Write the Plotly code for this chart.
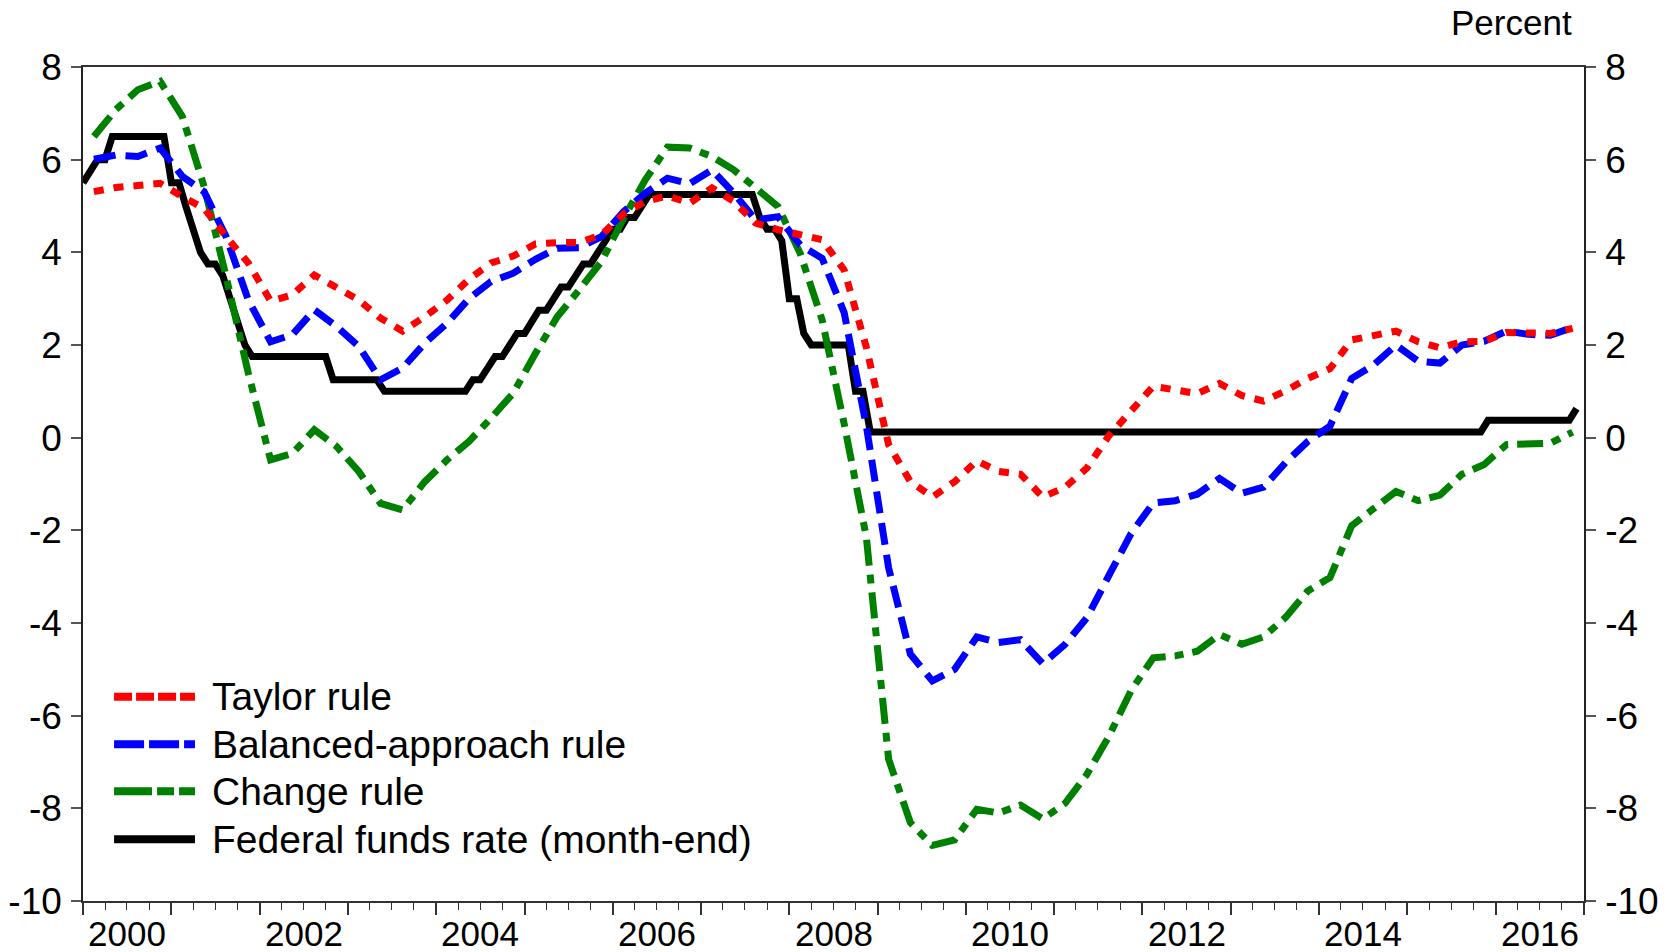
import plotly.graph_objects as go
import pandas as pd

# ---------------- data ----------------
quarters = pd.period_range("2000Q1", "2016Q4", freq="Q").to_timestamp(how="start") + pd.Timedelta(days=45)
months = pd.date_range("2000-01-01", "2016-12-01", freq="MS")

taylor = [5.31, 5.40, 5.44, 5.49, 5.20, 4.95, 4.34, 3.77, 2.95, 3.08, 3.51, 3.26, 2.97, 2.58, 2.30, 2.61,
          2.97, 3.42, 3.77, 3.92, 4.18, 4.21, 4.21, 4.38, 4.83, 5.10, 5.22, 5.06, 5.39, 5.10, 4.63, 4.49,
          4.38, 4.27, 3.62, 1.95, -0.15, -0.95, -1.28, -0.95, -0.50, -0.73, -0.79, -1.28, -1.07, -0.66, 0.04, 0.58,
          1.11, 1.03, 0.95, 1.17, 0.91, 0.79, 1.01, 1.28, 1.49, 2.11, 2.21, 2.30, 2.07, 1.94, 2.07, 2.08,
          2.27, 2.25, 2.25, 2.36]

balanced = [6.01, 6.10, 6.07, 6.25, 5.64, 5.31, 4.34, 2.97, 2.07, 2.22, 2.76, 2.40, 1.97, 1.25, 1.50, 2.04,
            2.47, 3.00, 3.37, 3.55, 3.85, 4.09, 4.10, 4.34, 4.88, 5.28, 5.60, 5.48, 5.78, 5.28, 4.70, 4.77,
            4.16, 3.87, 2.70, 0.25, -2.81, -4.67, -5.25, -5.00, -4.30, -4.42, -4.36, -4.88, -4.46, -3.89, -2.98, -2.07,
            -1.41, -1.36, -1.22, -0.88, -1.20, -1.07, -0.54, -0.08, 0.25, 1.28, 1.57, 2.00, 1.65, 1.61, 2.00, 2.08,
            2.30, 2.23, 2.21, 2.38]

change = [6.50, 7.08, 7.51, 7.69, 6.93, 5.42, 3.48, 1.39, -0.48, -0.34, 0.17, -0.19, -0.73, -1.42, -1.56, -0.95,
          -0.48, -0.08, 0.42, 0.96, 1.82, 2.61, 3.19, 3.80, 4.74, 5.57, 6.27, 6.25, 6.07, 5.78, 5.39, 4.99,
          3.98, 2.54, 0.30, -2.15, -6.94, -8.31, -8.80, -8.68, -8.02, -8.10, -7.93, -8.23, -7.89, -7.27, -6.45, -5.46,
          -4.75, -4.71, -4.61, -4.25, -4.46, -4.30, -3.88, -3.31, -3.02, -1.90, -1.53, -1.16, -1.36, -1.24, -0.79, -0.58,
          -0.15, -0.15, -0.12, 0.12]

ffr = [
    5.5, 5.75, 6.0, 6.0, 6.5, 6.5, 6.5, 6.5, 6.5, 6.5, 6.5, 6.5,
    5.5, 5.5, 5.0, 4.5, 4.0, 3.75, 3.75, 3.5, 3.0, 2.5, 2.0, 1.75,
    1.75, 1.75, 1.75, 1.75, 1.75, 1.75, 1.75, 1.75, 1.75, 1.75, 1.25, 1.25,
    1.25, 1.25, 1.25, 1.25, 1.25, 1.0, 1.0, 1.0, 1.0, 1.0, 1.0, 1.0,
    1.0, 1.0, 1.0, 1.0, 1.0, 1.25, 1.25, 1.5, 1.75, 1.75, 2.0, 2.25,
    2.25, 2.5, 2.75, 2.75, 3.0, 3.25, 3.25, 3.5, 3.75, 3.75, 4.0, 4.25,
    4.5, 4.5, 4.75, 4.75, 5.0, 5.25, 5.25, 5.25, 5.25, 5.25, 5.25, 5.25,
    5.25, 5.25, 5.25, 5.25, 5.25, 5.25, 5.25, 5.25, 4.75, 4.5, 4.5, 4.25,
    3.0, 3.0, 2.25, 2.0, 2.0, 2.0, 2.0, 2.0, 2.0, 1.0, 1.0, 0.125,
    0.125, 0.125, 0.125, 0.125, 0.125, 0.125, 0.125, 0.125, 0.125, 0.125, 0.125, 0.125,
    0.125, 0.125, 0.125, 0.125, 0.125, 0.125, 0.125, 0.125, 0.125, 0.125, 0.125, 0.125,
    0.125, 0.125, 0.125, 0.125, 0.125, 0.125, 0.125, 0.125, 0.125, 0.125, 0.125, 0.125,
    0.125, 0.125, 0.125, 0.125, 0.125, 0.125, 0.125, 0.125, 0.125, 0.125, 0.125, 0.125,
    0.125, 0.125, 0.125, 0.125, 0.125, 0.125, 0.125, 0.125, 0.125, 0.125, 0.125, 0.125,
    0.125, 0.125, 0.125, 0.125, 0.125, 0.125, 0.125, 0.125, 0.125, 0.125, 0.125, 0.125,
    0.125, 0.125, 0.125, 0.125, 0.125, 0.125, 0.125, 0.125, 0.125, 0.125, 0.125, 0.375,
    0.375, 0.375, 0.375, 0.375, 0.375, 0.375, 0.375, 0.375, 0.375, 0.375, 0.375, 0.625,
]

series_names = ["Taylor rule", "Balanced-approach rule", "Change rule", "Federal funds rate (month-end)"]
year_labels = [2000, 2002, 2004, 2006, 2008, 2010, 2012, 2014, 2016]
y_ticks = [-10, -8, -6, -4, -2, 0, 2, 4, 6, 8]
y_ticktext = ["-10", "-8", "-6", "-4", "-2", "0", "2", "4", "6", "8"]

# ---------------- styles ----------------
FONT = "Liberation Sans, Arial, sans-serif"
RED, BLUE, GREEN, BLACK = "#FF0000", "#0000FF", "#008000", "#000000"
LW = 7

fig = go.Figure()
fig.add_trace(go.Scatter(x=months, y=ffr, mode="lines", name=series_names[3], showlegend=False,
                         line=dict(color=BLACK, width=LW)))
fig.add_trace(go.Scatter(x=quarters, y=change, mode="lines", name=series_names[2], showlegend=False,
                         line=dict(color=GREEN, width=LW, dash="26px,9px,9px,9px")))
fig.add_trace(go.Scatter(x=quarters, y=balanced, mode="lines", name=series_names[1], showlegend=False,
                         line=dict(color=BLUE, width=LW, dash="22px,10px")))
fig.add_trace(go.Scatter(x=quarters, y=taylor, mode="lines", name=series_names[0], showlegend=False,
                         line=dict(color=RED, width=LW, dash="10px,10px")))
# empty trace so that the right-hand axis is drawn
fig.add_trace(go.Scatter(x=[], y=[], yaxis="y2", showlegend=False, hoverinfo="skip"))

# manual legend (long line samples as in the original)
leg_dash = ["18px,4px", "30px,5px", "38px,5px,17px,5px", "solid"]
leg_col = [RED, BLUE, GREEN, BLACK]
leg_y = [0.2448, 0.1880, 0.1316, 0.0740]
shapes = []
annotations = []
for name, d, c, yy in zip(series_names, leg_dash, leg_col, leg_y):
    shapes.append(dict(type="line", xref="paper", yref="paper", x0=0.0207, x1=0.0746, y0=yy, y1=yy,
                       line=dict(color=c, width=8, dash=d)))
    annotations.append(dict(xref="paper", yref="paper", x=0.0846, y=yy, xanchor="left", yanchor="middle",
                            text=name, showarrow=False, font=dict(family=FONT, size=39, color="black")))

for yr in year_labels:
    annotations.append(dict(xref="x", yref="paper", x=f"{yr}-07-02", y=-0.039, xanchor="center",
                            yanchor="middle", text=str(yr), showarrow=False,
                            font=dict(family=FONT, size=35, color="black")))

annotations.append(dict(xref="paper", yref="paper", x=0.9933, y=1.0532, xanchor="right", yanchor="middle",
                        text="Percent", showarrow=False, font=dict(family=FONT, size=35, color="black")))

yax_common = dict(range=[-10, 8], tickmode="array", tickvals=y_ticks, ticktext=y_ticktext,
                  ticks="outside", ticklen=10, tickwidth=1.5, tickcolor="#555", ticklabelstandoff=2,
                  showline=True, linecolor="#222", linewidth=1.5, showgrid=False, zeroline=False,
                  tickfont=dict(family=FONT, size=37, color="black"), fixedrange=True)

fig.update_layout(
    width=1671, height=952,
    margin=dict(l=83, r=87, t=67, b=51, autoexpand=False),
    paper_bgcolor="white", plot_bgcolor="white",
    font=dict(family=FONT, color="black"),
    showlegend=False,
    xaxis=dict(type="date", range=["2000-01-01", "2017-01-01"], showgrid=False, zeroline=False,
               showline=True, linecolor="#333", linewidth=2, mirror=True, fixedrange=True,
               tickmode="linear", tick0="2000-01-01", dtick="M12", ticks="outside", ticklen=12,
               tickwidth=1.5, tickcolor="#333", showticklabels=False,
               minor=dict(dtick="M3", tick0="2000-01-01", ticks="outside", ticklen=7, tickwidth=1.2,
                          tickcolor="#333", showgrid=False)),
    yaxis=dict(side="left", **yax_common),
    yaxis2=dict(side="right", overlaying="y", anchor="x", **yax_common),
    shapes=shapes,
    annotations=annotations,
)

fig.write_html("out.html", config={"displayModeBar": False},
               post_script="document.body.style.margin='0px';document.body.style.overflow='hidden';")
